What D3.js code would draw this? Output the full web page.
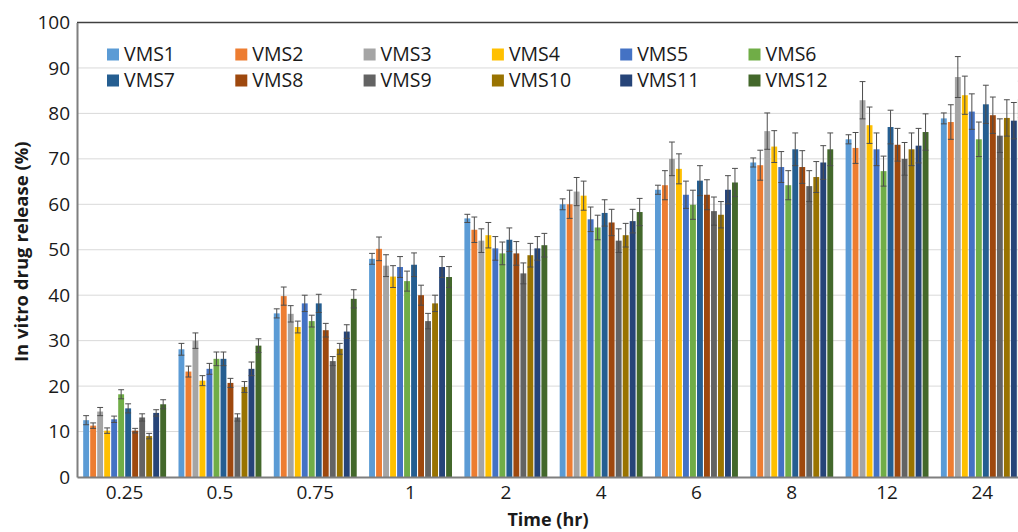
<!DOCTYPE html>
<html>
<head>
<meta charset="utf-8">
<script src="https://cdn.jsdelivr.net/npm/d3@7"></script>
<style>
  body { margin: 0; background: #fff; }
  svg { display: block; font-family: "Open Sans", sans-serif; }
  .grid line { stroke: #d9d9d9; stroke-width: 1; }
</style>
</head>
<body>
<div id="chart"></div>
<script>
// time points (hr)
var timePoints = ["0.25", "0.5", "0.75", "1", "2", "4", "6", "8", "12", "24"];
var seriesNames = ["VMS1", "VMS2", "VMS3", "VMS4", "VMS5", "VMS6",
                   "VMS7", "VMS8", "VMS9", "VMS10", "VMS11", "VMS12"];
var seriesColors = ["#5b9bd5", "#ed7d31", "#a5a5a5", "#ffc000", "#4472c4", "#70ad47",
                    "#255e91", "#9e480e", "#636363", "#997300", "#264478", "#43682b"];

// mean release (%) per formulation, one value per time point
var releaseMeans = [
  [12.5, 28.1, 36.0, 48.0, 56.9, 60.0, 63.2, 69.2, 74.3, 78.9],
  [11.3, 23.2, 39.8, 50.2, 54.4, 60.0, 64.2, 68.6, 72.4, 78.1],
  [14.4, 30.0, 35.9, 46.5, 52.0, 62.8, 70.0, 76.1, 82.9, 88.0],
  [10.2, 21.2, 33.0, 44.1, 53.2, 61.9, 67.8, 72.7, 77.4, 84.0],
  [12.7, 23.8, 38.2, 46.2, 50.3, 56.7, 62.1, 68.2, 72.1, 80.4],
  [18.2, 26.0, 34.3, 43.1, 49.2, 54.9, 59.9, 64.2, 67.3, 74.3],
  [15.1, 26.0, 38.2, 46.7, 52.2, 58.1, 65.2, 72.1, 77.0, 82.0],
  [10.2, 20.7, 32.3, 40.0, 49.2, 56.0, 62.1, 68.2, 73.1, 79.6],
  [13.1, 13.1, 25.5, 34.3, 44.8, 52.0, 58.5, 64.0, 70.0, 75.1],
  [ 9.0, 19.8, 28.2, 38.2, 48.8, 53.2, 57.7, 66.0, 72.1, 79.0],
  [14.1, 23.8, 32.0, 46.2, 50.3, 56.3, 63.2, 69.2, 72.9, 78.4],
  [16.0, 28.9, 39.2, 44.0, 51.0, 58.3, 64.8, 72.1, 75.9, 83.1]
];
// error (+/-)
var releaseErrors = [
  [1.0, 1.3, 1.0, 1.2, 0.9, 1.2, 1.0, 1.0, 1.0, 1.2],
  [0.6, 1.2, 2.0, 2.6, 2.8, 3.1, 3.2, 3.3, 3.4, 3.8],
  [0.9, 1.7, 1.8, 2.4, 2.6, 3.1, 3.7, 4.0, 4.1, 4.5],
  [0.6, 1.1, 1.3, 2.4, 2.8, 3.2, 3.3, 3.5, 4.0, 4.2],
  [0.7, 1.2, 1.8, 2.3, 2.6, 2.7, 3.0, 3.4, 3.6, 3.9],
  [1.0, 1.5, 1.3, 2.2, 2.5, 2.7, 3.2, 3.2, 3.3, 3.8],
  [1.0, 1.5, 2.0, 2.6, 2.6, 2.9, 3.3, 3.6, 3.7, 4.2],
  [0.5, 1.0, 1.5, 2.2, 2.6, 2.9, 3.3, 3.6, 3.6, 4.0],
  [0.8, 0.8, 1.0, 1.7, 2.3, 2.6, 3.1, 3.4, 3.6, 3.7],
  [0.6, 1.2, 1.2, 1.8, 2.6, 2.6, 2.9, 3.4, 3.6, 4.0],
  [0.7, 1.5, 1.5, 2.3, 2.6, 2.6, 3.1, 3.7, 3.8, 4.0],
  [1.0, 1.5, 2.0, 2.3, 2.6, 3.0, 3.1, 3.6, 4.0, 4.0]
];
var yTicks = [0, 10, 20, 30, 40, 50, 60, 70, 80, 90, 100];

var W = 1018, H = 532;
// plot area runs past the right edge, like the original picture
var plotL = 77, plotR = 1030, plotT = 22.5, plotB = 477;

var svg = d3.select("#chart").append("svg")
    .attr("width", W)
    .attr("height", H);

var x0 = d3.scaleBand()
    .domain(timePoints)
    .range([plotL, plotR])
    .paddingInner(0.13)
    .paddingOuter(0.065);

var x1 = d3.scaleBand()
    .domain(seriesNames)
    .range([0, x0.bandwidth()])
    .paddingInner(0.16);

var y = d3.scaleLinear()
    .domain([0, 100])
    .range([plotB, plotT]);

// gridlines
svg.append("g")
    .attr("class", "grid")
    .selectAll("line")
    .data(yTicks.filter(function(d){ return d > 0 && d < 100; }))
    .join("line")
    .attr("x1", plotL).attr("x2", plotR)
    .attr("y1", function(d){ return y(d); })
    .attr("y2", function(d){ return y(d); });

// flatten into one record per bar
var bars = [];
seriesNames.forEach(function(s, i){
    timePoints.forEach(function(t, j){
        bars.push({series: s, idx: i, time: t, v: releaseMeans[i][j], e: releaseErrors[i][j]});
    });
});

var barG = svg.append("g");
barG.selectAll("rect")
    .data(bars)
    .join("rect")
    .attr("x", function(d){ return x0(d.time) + x1(d.series); })
    .attr("y", function(d){ return y(d.v); })
    .attr("width", x1.bandwidth())
    .attr("height", function(d){ return y(0) - y(d.v); })
    .attr("fill", function(d){ return seriesColors[d.idx]; });

// error bars
var errG = svg.append("g")
    .attr("stroke", "#4d4d4d")
    .attr("stroke-width", 1);
bars.forEach(function(d){
    var cx = x0(d.time) + x1(d.series) + x1.bandwidth() / 2;
    var hw = x1.bandwidth() / 2;
    var yHi = y(d.v + d.e), yLo = y(d.v - d.e);
    errG.append("line").attr("x1", cx).attr("x2", cx).attr("y1", yHi).attr("y2", yLo);
    errG.append("line").attr("x1", cx - hw).attr("x2", cx + hw).attr("y1", yHi).attr("y2", yHi);
    errG.append("line").attr("x1", cx - hw).attr("x2", cx + hw).attr("y1", yLo).attr("y2", yLo);
});

// frame: top border
svg.append("line")
    .attr("x1", plotL).attr("x2", plotR)
    .attr("y1", plotT).attr("y2", plotT)
    .attr("stroke", "#404040").attr("stroke-width", 1.5);

// y axis
var yAxis = svg.append("g")
    .attr("transform", "translate(" + plotL + ",0)")
    .call(d3.axisLeft(y).tickValues(yTicks).tickSize(0).tickPadding(7));
yAxis.select(".domain").attr("stroke", "#7f7f7f").attr("stroke-width", 2);
yAxis.selectAll("text")
    .attr("font-size", 19)
    .attr("font-family", "Open Sans, sans-serif")
    .attr("fill", "#1a1a1a");

// x axis
var xAxis = svg.append("g")
    .attr("transform", "translate(0," + plotB + ")")
    .call(d3.axisBottom(x0).tickSize(0).tickPadding(9));
xAxis.select(".domain").attr("stroke", "#7f7f7f").attr("stroke-width", 2);
xAxis.selectAll("text")
    .attr("font-size", 19)
    .attr("font-family", "Open Sans, sans-serif")
    .attr("fill", "#1a1a1a");

// axis titles
svg.append("text")
    .attr("transform", "translate(28," + ((plotT + plotB) / 2 + 2) + ") rotate(-90)")
    .attr("text-anchor", "middle")
    .attr("font-size", 18.5)
    .attr("font-weight", "bold")
    .attr("fill", "#1a1a1a")
    .text("In vitro drug release (%)");

svg.append("text")
    .attr("x", 548)
    .attr("y", 526)
    .attr("text-anchor", "middle")
    .attr("font-size", 18)
    .attr("font-weight", "bold")
    .attr("fill", "#1a1a1a")
    .text("Time (hr)");

// legend, two rows of six
var legend = svg.append("g")
    .selectAll("g")
    .data(seriesNames)
    .join("g")
    .attr("transform", function(d, i){
        return "translate(" + (107 + (i % 6) * 128.3) + "," + (i < 6 ? 54.5 : 80.5) + ")";
    });
legend.append("rect")
    .attr("x", 0).attr("y", -6)
    .attr("width", 12).attr("height", 12)
    .attr("fill", function(d, i){ return seriesColors[i]; });
legend.append("text")
    .attr("x", 17)
    .attr("dy", "0.35em")
    .attr("font-size", 19.5)
    .attr("fill", "#1a1a1a")
    .text(function(d){ return d; });
</script>
</body>
</html>
